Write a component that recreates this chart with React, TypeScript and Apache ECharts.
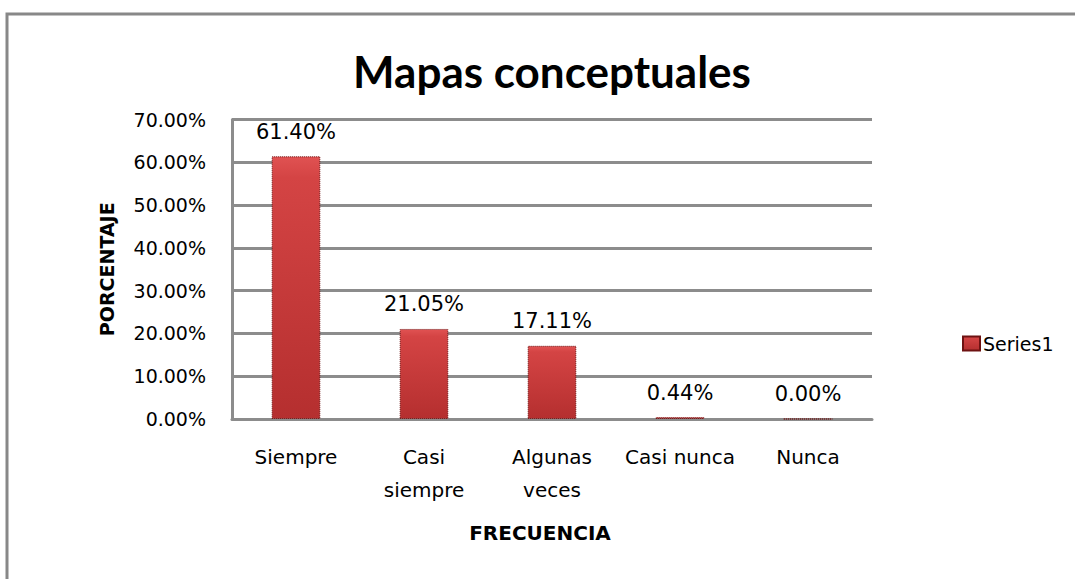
import React, { useEffect, useRef } from "react";
import * as echarts from "echarts";

const titleText = "Mapas conceptuales";
const categories = ["Siempre", "Casi\nsiempre", "Algunas\nveces", "Casi nunca", "Nunca"];
const seriesName = "Series1";
const values = [61.4, 21.05, 17.11, 0.44, 0.0];
const yAxisName = "PORCENTAJE";
const xAxisName = "FRECUENCIA";
const yMin = 0;
const yMax = 70;
const yInterval = 10;

export default function App() {
  const ref = useRef<HTMLDivElement>(null);
  useEffect(() => {
    if (!ref.current) return;
    const chart = echarts.init(ref.current, null, { renderer: "svg" });
    const gray = "#8c8c8c";
    chart.setOption({
      animation: false,
      backgroundColor: "#ffffff",
      title: {
        text: titleText,
        left: 547,
        top: 44,
        textAlign: "center",
        textStyle: { fontFamily: "Lato", fontWeight: "bold", fontSize: 44, color: "#000" },
      },
      legend: {
        data: [seriesName],
        left: 962,
        top: 334,
        padding: 0,
        icon: "rect",
        itemWidth: 17,
        itemHeight: 14,
        itemGap: 6,
        textStyle: { fontFamily: "DejaVu Sans", fontSize: 19, color: "#000", padding: [0, 0, 0, -2] },
      },
      grid: { left: 232, right: 203, top: 119.5, bottom: 160, containLabel: false },
      xAxis: {
        type: "category",
        data: categories,
        name: xAxisName,
        nameLocation: "middle",
        nameGap: 104,
        nameTextStyle: {
          fontFamily: "DejaVu Sans",
          fontWeight: "bold",
          fontSize: 20,
          color: "#000",
          padding: [0, 24, 0, 0],
        },
        axisLine: { show: true, lineStyle: { color: gray, width: 3 } },
        axisTick: { show: false },
        axisLabel: {
          fontFamily: "DejaVu Sans",
          fontSize: 20,
          color: "#000",
          margin: 21,
          lineHeight: 33,
          interval: 0,
        },
      },
      yAxis: {
        type: "value",
        min: yMin,
        max: yMax,
        interval: yInterval,
        name: yAxisName,
        nameLocation: "middle",
        nameRotate: 90,
        nameGap: 116,
        nameTextStyle: { fontFamily: "DejaVu Sans", fontWeight: "bold", fontSize: 19, color: "#000" },
        axisLine: { show: true, lineStyle: { color: gray, width: 3 } },
        axisTick: { show: false },
        splitLine: { show: true, lineStyle: { color: gray, width: 3 } },
        axisLabel: {
          fontFamily: "DejaVu Sans",
          fontSize: 19,
          color: "#000",
          margin: 26,
          formatter: (v: number) => v.toFixed(2) + "%",
        },
      },
      series: [
        {
          name: seriesName,
          type: "bar",
          data: values,
          barWidth: "38%",
          itemStyle: {
            color: new echarts.graphic.LinearGradient(0, 0, 0, 1, [
              { offset: 0, color: "#e05252" },
              { offset: 0.08, color: "#d44444" },
              { offset: 1, color: "#b52f2f" },
            ]),
            borderColor: "#6e1212",
            borderWidth: 1,
            borderType: "dotted",
          },
          label: {
            show: true,
            position: "top",
            distance: 14,
            fontFamily: "DejaVu Sans",
            fontSize: 21,
            color: "#000",
            formatter: (p: any) => Number(p.value).toFixed(2) + "%",
          },
        },
      ],
      graphic: [
        {
          type: "rect",
          shape: { x: 7, y: 14, width: 1200, height: 800 },
          style: { fill: "none", stroke: "#888888", lineWidth: 3 },
          silent: true,
          z: -1,
        },
      ],
    });
    return () => chart.dispose();
  }, []);
  return (
    <div
      ref={ref}
      style={{ position: "absolute", left: 0, top: 0, width: 1075, height: 579 }}
    />
  );
}
